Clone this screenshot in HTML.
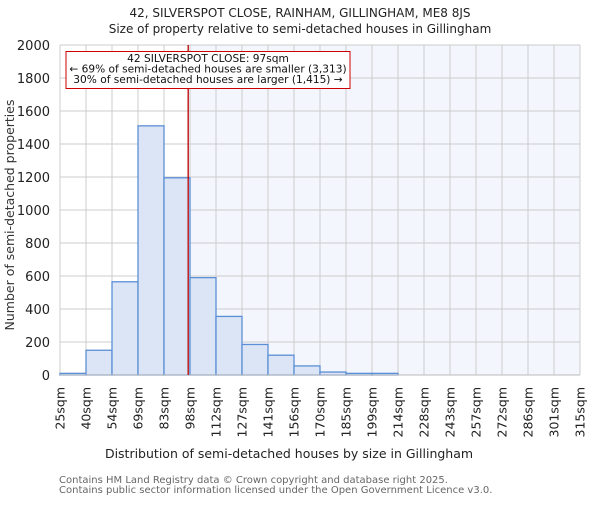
<!DOCTYPE html>
<html><head><meta charset="utf-8"><style>
body{margin:0;background:#fff;}
svg{font-family:"DejaVu Sans","Liberation Sans",sans-serif;}
</style></head><body>
<svg width="600" height="500" xmlns="http://www.w3.org/2000/svg">
<g id="chart"></g>
</svg>
<script>
const edges=["25sqm","40sqm","54sqm","69sqm","83sqm","98sqm","112sqm","127sqm","141sqm","156sqm","170sqm","185sqm","199sqm","214sqm","228sqm","243sqm","257sqm","272sqm","286sqm","301sqm","315sqm"];
const counts=[10,150,565,1510,1195,590,355,185,120,55,18,10,10,0,0,0,0,0,0,0];
const yTicks=[0,200,400,600,800,1000,1200,1400,1600,1800,2000];
const markerBin=4.93;
const L=60,R=580,T=45,B=375,ymax=2000;
const bw=(R-L)/counts.length;
const x=i=>L+i*bw, y=v=>B-(v/ymax)*(B-T);
const g=document.getElementById('chart');const NS='http://www.w3.org/2000/svg';
function el(t,a,txt){const e=document.createElementNS(NS,t);for(const k in a)e.setAttribute(k,a[k]);if(txt!==undefined)e.textContent=txt;g.appendChild(e);return e;}
const mx=x(markerBin);
let e=el('rect',{x:mx,y:T,width:R-mx,height:B-T,fill:'#f3f6fd'});


yTicks.forEach(v=>{let l=el('line',{x1:L,x2:R,y1:y(v),y2:y(v),stroke:'#cccccc'});


let t=el('text',{x:L-10,y:y(v)+5,'text-anchor':'end','font-size':13,fill:'#222'},v);

});
edges.forEach((s,i)=>{let l=el('line',{x1:x(i),x2:x(i),y1:T,y2:B,stroke:'#cccccc'});


let t=el('text',{transform:`translate(${x(i)+4.5},387) rotate(-90)`,'text-anchor':'end','font-size':12.5,fill:'#222'},s);

});
counts.forEach((v,i)=>{if(v<=0)return;let r=el('rect',{x:x(i),y:y(v),width:bw,height:B-y(v),fill:'#dbe5f5',stroke:'#5b8fd6','stroke-width':1.3});

});
e=el('line',{x1:L,x2:R,y1:B,y2:B,stroke:'#bbbbbb'});


e=el('line',{x1:mx,x2:mx,y1:T,y2:B,stroke:'#bb0000','stroke-width':1.3});


e=el('rect',{x:66,y:51.5,width:284,height:37,fill:'#fff',stroke:'#cc0000','stroke-width':1});


[['42 SILVERSPOT CLOSE: 97sqm',62],['← 69% of semi-detached houses are smaller (3,313)',72.5],['30% of semi-detached houses are larger (1,415) →',83]].forEach(a=>{let t=el('text',{x:208,y:a[1],'text-anchor':'middle','font-size':10.6,fill:'#111'},a[0]);

});
[['42, SILVERSPOT CLOSE, RAINHAM, GILLINGHAM, ME8 8JS',300,17,12,'chart-title'],['Size of property relative to semi-detached houses in Gillingham',300,33,12,'chart-subtitle'],['Distribution of semi-detached houses by size in Gillingham',289,458,12.5,'x-axis-title']].forEach(a=>{let t=el('text',{x:a[1],y:a[2],'text-anchor':'middle','font-size':a[3],fill:'#222'},a[0]);

});
e=el('text',{transform:'translate(14,215) rotate(-90)','text-anchor':'middle','font-size':12.5,fill:'#333'},'Number of semi-detached properties');


[['Contains HM Land Registry data © Crown copyright and database right 2025.',483],['Contains public sector information licensed under the Open Government Licence v3.0.',493]].forEach(a=>{let t=el('text',{x:59,y:a[1],'font-size':10,fill:'#666'},a[0]);

});
</script>
</body></html>
